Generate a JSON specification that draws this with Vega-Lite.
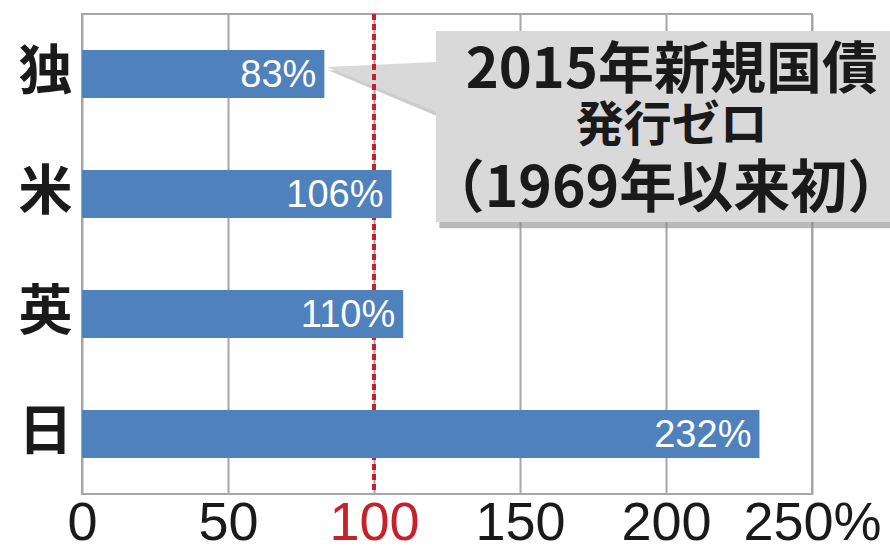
{
  "$schema": "https://vega.github.io/schema/vega-lite/v6.json",
  "width": 730,
  "height": 480,
  "autosize": {"type": "none"},
  "padding": {"left": 82, "top": 14, "right": 78, "bottom": 53},
  "background": "white",
  "config": {"view": {"stroke": "#a6a6a6", "strokeWidth": 2}, "font": "Liberation Sans"},
  "resolve": {"scale": {"y": "independent"}},
  "layer": [
    {
      "data": {"values": [{"x": 84.5, "y": 0.47, "y2": 0.47}, {"x": 122.5, "y": 0.45, "y2": 0.86}]},
      "mark": {"type": "area", "color": "#9a9a9a", "opacity": 0.5},
      "encoding": {
        "x": {"field": "x", "type": "quantitative", "scale": {"domain": [0, 250], "nice": false}},
        "y": {"field": "y", "type": "quantitative", "stack": null, "scale": {"domain": [0, 4], "reverse": true, "nice": false, "zero": false}, "axis": null},
        "y2": {"field": "y2"}
      }
    },
    {
      "data": {"values": [{}]},
      "mark": {"type": "rect", "color": "#8a8a8a", "opacity": 0.6},
      "encoding": {
        "x": {"datum": 122.4, "type": "quantitative"},
        "x2": {"datum": 282},
        "y": {"datum": 0.2, "type": "quantitative", "scale": {"domain": [0, 4], "reverse": true, "nice": false, "zero": false}, "axis": null},
        "y2": {"datum": 1.785}
      }
    },
    {
      "data": {"values": [{"x": 83.8, "y": 0.442, "y2": 0.442}, {"x": 121.5, "y": 0.4, "y2": 0.817}]},
      "mark": {"type": "area", "color": "#d9d9d9", "opacity": 1},
      "encoding": {
        "x": {"field": "x", "type": "quantitative"},
        "y": {"field": "y", "type": "quantitative", "stack": null, "scale": {"domain": [0, 4], "reverse": true, "nice": false, "zero": false}, "axis": null},
        "y2": {"field": "y2"}
      }
    },
    {
      "data": {"values": [{}]},
      "mark": {"type": "rect", "color": "#d9d9d9"},
      "encoding": {
        "x": {"datum": 121.2, "type": "quantitative"},
        "x2": {"datum": 282},
        "y": {"datum": 0.142, "type": "quantitative", "scale": {"domain": [0, 4], "reverse": true, "nice": false, "zero": false}, "axis": null},
        "y2": {"datum": 1.733}
      }
    },
    {
      "data": {"values": [{"x": 100}]},
      "mark": {"type": "rule", "color": "#c8202a", "strokeWidth": 4, "strokeDash": [6, 4]},
      "encoding": {"x": {"field": "x", "type": "quantitative"}}
    },
    {
      "data": {"values": [
        {"c": "独", "v": 83, "label": "83%"},
        {"c": "米", "v": 106, "label": "106%"},
        {"c": "英", "v": 110, "label": "110%"},
        {"c": "日", "v": 232, "label": "232%"}
      ]},
      "layer": [
        {
          "mark": {"type": "bar", "color": "#4f81bd"},
          "encoding": {
            "x": {"field": "v", "type": "quantitative", "scale": {"domain": [0, 250], "nice": false},
              "axis": {"values": [0, 50, 100, 150, 200, 250], "grid": true, "gridColor": "#a6a6a6", "gridWidth": 2,
                "ticks": false, "domain": false, "labelFontSize": 54, "labelPadding": 2, "labelBaseline": "top",
                "labelFlush": false, "labelOverlap": false, "labelBound": false,
                "labelColor": {"condition": {"test": "datum.value == 100", "value": "#c8202a"}, "value": "#1a1a1a"},
                "labelExpr": "datum.value == 250 ? '250%' : datum.label", "title": null}},
            "y": {"field": "c", "type": "nominal", "sort": null,
              "scale": {"paddingInner": 0.6, "paddingOuter": 0.3},
              "axis": {"title": null, "ticks": false, "domain": false, "labelFontSize": 54, "labelFont": "Noto Sans CJK JP",
                "labelFontWeight": "bold", "labelColor": "#1a1a1a", "labelPadding": 10, "grid": false}}
          }
        },
        {
          "mark": {"type": "text", "align": "right", "baseline": "middle", "dx": -8, "dy": 2, "fontSize": 38, "color": "white"},
          "encoding": {
            "x": {"field": "v", "type": "quantitative"},
            "y": {"field": "c", "type": "nominal", "sort": null},
            "text": {"field": "label"}
          }
        }
      ]
    },
    {
      "data": {"values": [{}]},
      "mark": {"type": "text", "font": "Noto Sans CJK JP", "fontWeight": "bold", "fontSize": 56, "align": "center", "baseline": "middle", "color": "#1a1a1a"},
      "encoding": {
        "x": {"datum": 202, "type": "quantitative"},
        "y": {"datum": 0.475, "type": "quantitative", "scale": {"domain": [0, 4], "reverse": true, "nice": false, "zero": false}, "axis": null},
        "text": {"value": "2015年新規国債"}
      }
    },
    {
      "data": {"values": [{}]},
      "mark": {"type": "text", "font": "Noto Sans CJK JP", "fontWeight": "bold", "fontSize": 48, "align": "center", "baseline": "middle", "color": "#1a1a1a"},
      "encoding": {
        "x": {"datum": 202, "type": "quantitative"},
        "y": {"datum": 0.94, "type": "quantitative", "scale": {"domain": [0, 4], "reverse": true, "nice": false, "zero": false}, "axis": null},
        "text": {"value": "発行ゼロ"}
      }
    },
    {
      "data": {"values": [{}]},
      "mark": {"type": "text", "font": "Noto Sans CJK JP", "fontWeight": "bold", "fontSize": 57, "align": "center", "baseline": "middle", "color": "#1a1a1a"},
      "encoding": {
        "x": {"datum": 200, "type": "quantitative"},
        "y": {"datum": 1.47, "type": "quantitative", "scale": {"domain": [0, 4], "reverse": true, "nice": false, "zero": false}, "axis": null},
        "text": {"value": "（1969年以来初）"}
      }
    }
  ]
}
